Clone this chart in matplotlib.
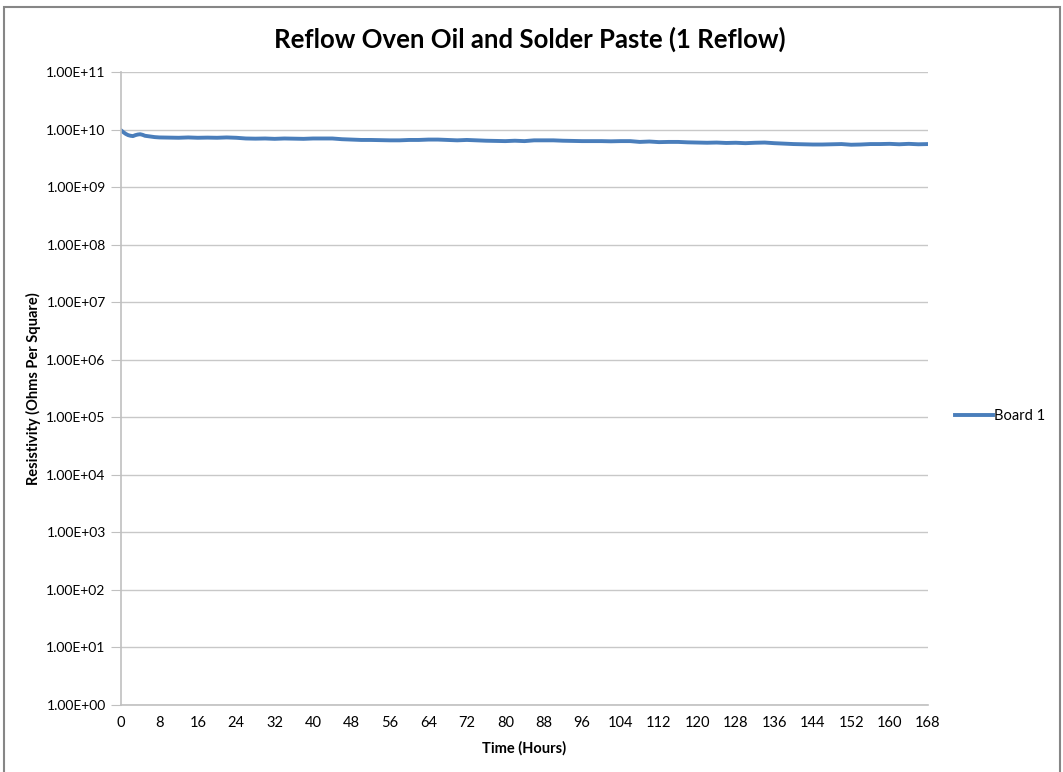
import matplotlib.pyplot as plt
from matplotlib.patches import Rectangle
from matplotlib.ticker import FixedLocator, FixedFormatter

plt.rcParams['font.family'] = ['Lato', 'DejaVu Sans']

# Board 1 resistivity log, hours vs ohms/sq (x 1e9)
hours = [0, 0.5, 1, 1.5, 2, 2.5, 3, 3.5, 4, 4.5, 5, 6, 7, 8, 10, 12, 14, 16, 18, 20,
         22, 24, 26, 28, 30, 32, 34, 36, 38, 40, 42, 44, 46, 48, 50, 52, 54, 56, 58,
         60, 62, 64, 66, 68, 70, 72, 74, 76, 78, 80, 82, 84, 86, 88, 90, 92, 94, 96,
         98, 100, 102, 104, 106, 108, 110, 112, 114, 116, 118, 120, 122, 124, 126,
         128, 130, 132, 134, 136, 138, 140, 142, 144, 146, 148, 150, 152, 154, 156,
         158, 160, 162, 164, 166, 168]
board1 = [9.7, 9.0, 8.4, 8.0, 7.8, 7.7, 8.0, 8.2, 8.3, 8.1, 7.8, 7.6, 7.4, 7.3, 7.25,
          7.2, 7.3, 7.2, 7.25, 7.2, 7.3, 7.2, 7.0, 6.95, 7.0, 6.9, 7.0, 6.95, 6.9, 7.0,
          7.0, 7.0, 6.8, 6.7, 6.6, 6.6, 6.55, 6.5, 6.5, 6.6, 6.6, 6.7, 6.7, 6.6, 6.5,
          6.6, 6.5, 6.4, 6.35, 6.3, 6.4, 6.3, 6.5, 6.5, 6.5, 6.4, 6.35, 6.3, 6.3, 6.3,
          6.25, 6.3, 6.3, 6.1, 6.2, 6.05, 6.1, 6.1, 6.0, 5.95, 5.9, 5.95, 5.85, 5.9,
          5.8, 5.9, 5.95, 5.8, 5.7, 5.6, 5.55, 5.5, 5.5, 5.55, 5.6, 5.45, 5.5, 5.6,
          5.6, 5.65, 5.55, 5.65, 5.55, 5.6]

x_ticks = list(range(0, 169, 8))
y_ticks = [10.0 ** k for k in range(0, 12)]
y_labels = ['1.00E+%02d' % k for k in range(0, 12)]

fig = plt.figure(figsize=(10.63, 7.72), dpi=100)
ax = fig.add_axes([0.1138, 0.0868, 0.7592, 0.8199])

ax.plot(hours, [v * 1e9 for v in board1], color='#4a7ebb', lw=2.8, label='Board 1')

ax.set_yscale('log')
ax.set_xlim(0, 168)
ax.set_ylim(1, 1e11)
ax.yaxis.set_major_locator(FixedLocator(y_ticks))
ax.yaxis.set_major_formatter(FixedFormatter(y_labels))
ax.yaxis.set_minor_locator(FixedLocator([]))
ax.set_xticks(x_ticks)
ax.grid(axis='y', color='#c8c8c8', lw=1)
ax.set_axisbelow(True)

for s in ['top', 'right']:
    ax.spines[s].set_visible(False)
for s in ['left', 'bottom']:
    ax.spines[s].set_color('#c0c0c0')
    ax.spines[s].set_linewidth(1.2)
ax.tick_params(axis='y', length=7, color='#c0c0c0', labelsize=10, pad=4)
ax.tick_params(axis='x', length=0, labelsize=10.5, pad=8)

ax.set_xlabel('Time (Hours)', fontsize=10.5, fontweight='bold', labelpad=8)
ax.set_ylabel('Resistivity (Ohms Per Square)', fontsize=10.5, fontweight='bold', labelpad=4)
fig.suptitle('Reflow Oven Oil and Solder Paste (1 Reflow)', x=0.498, y=0.966,
             fontsize=18.5, fontweight='bold')

ax.legend(loc='center left', bbox_to_anchor=(1.017, 0.457), frameon=False,
          fontsize=10.5, handlelength=2.6, handletextpad=0.1)

# chart border
fig.patches.append(Rectangle((0.004, -0.01), 0.993, 1.001, transform=fig.transFigure,
                             fill=False, edgecolor='#868686', lw=1.5))

fig.savefig('out.png', dpi=100)
